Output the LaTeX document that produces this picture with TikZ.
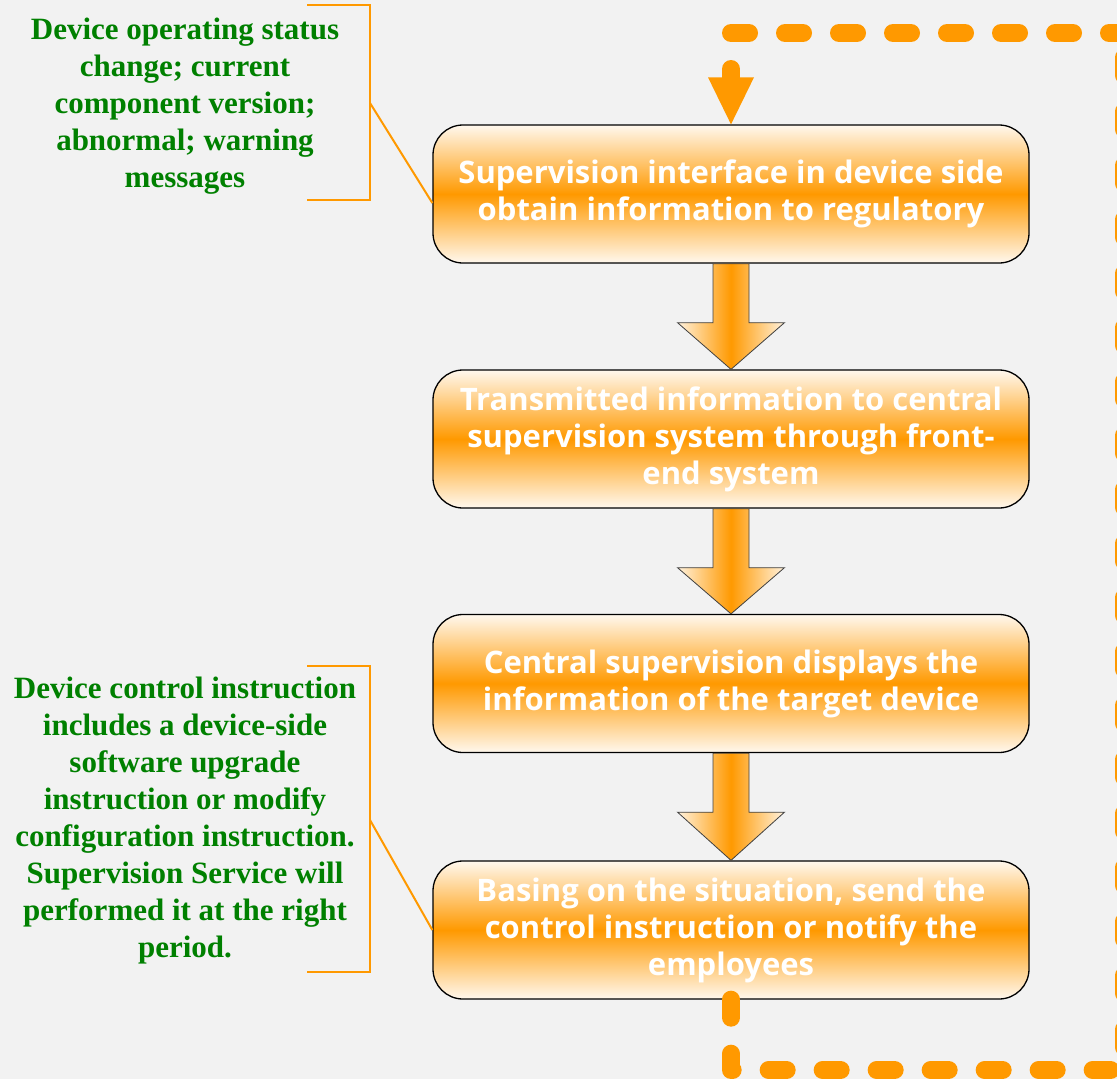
\documentclass[tikz,border=0pt]{standalone}
\usepackage{fontspec}
\setmainfont{Liberation Serif}
\newfontfamily\boxfont{Open Sans}
\usetikzlibrary{calc}
\definecolor{bg}{HTML}{F2F2F2}
\definecolor{org}{HTML}{FF9900}
\definecolor{lorg}{HTML}{FFF8EE}
\definecolor{aorg}{HTML}{FFF2DE}
\definecolor{grn}{HTML}{008000}
\tikzset{
  stagebox/.style={draw=black, line width=1.3pt, rounded corners=30pt,
    minimum width=596pt, minimum height=138pt,
    top color=lorg, bottom color=lorg, middle color=org,
    text=white, align=center, inner sep=0pt,
    font=\boxfont\bfseries\fontsize{31}{37}\selectfont},
  blockarr/.style={draw=black!75, line width=0.8pt,
    left color=aorg, right color=aorg, middle color=org},
  note/.style={text=grn, align=center, inner sep=0pt,
    font=\bfseries\fontsize{31}{37}\selectfont},
  brk/.style={draw=org, line width=2pt},
  loopline/.style={draw=org, line width=18pt, line cap=round, line join=round,
    dash pattern=on 18pt off 36pt},
}
\begin{document}
\begin{tikzpicture}[x=1pt,y=-1pt]
\useasboundingbox (0,0) rectangle (1117,1079);
\clip (0,0) rectangle (1117,1079);
\fill[bg] (0,0) rectangle (1117,1079);

\node[stagebox] (b1) at (731,194) {Supervision interface in device side\\obtain information to regulatory};
\node[stagebox] (b2) at (731,439) {Transmitted information to central\\supervision system through front-\\end system};
\node[stagebox] (b3) at (731,683.5) {Central supervision displays the\\information of the target device};
\node[stagebox] (b4) at (731,930) {Basing on the situation, send the\\control instruction or notify the\\employees};

% block arrows
\foreach \u/\v in {b1/b2, b2/b3, b3/b4}{
  \path[blockarr] ($(\u.south)+(-18,0)$) -- ($(\u.south)+(-18,59)$) -- ($(\u.south)+(-53.5,59)$)
    -- (\v.north) -- ($(\u.south)+(53.5,59)$) -- ($(\u.south)+(18,59)$) -- ($(\u.south)+(18,0)$) -- cycle;
}

% dashed feedback loop
\coordinate (c1) at (1124,1070);
\coordinate (c2) at (1124,33);
\coordinate (c3) at (b1.north |- c2);
\coordinate (c4) at ($(b1.north)+(0,-45)$);
\draw[loopline] (b4.south) |- (c1) -- (c2);
\draw[loopline, dash phase=3pt] (c2) -- (c3) -- (c4);
\fill[org] ($(b1.north)+(-23,-47)$) -- ($(b1.north)+(23,-47)$) -- (b1.north) -- cycle;

% annotations
\node[note] (t1) at (185,106) {Device operating status\\change; current\\component version;\\abnormal; warning\\messages};
\node[note] (t2) at (185,821) {Device control instruction\\includes a device-side\\software upgrade\\instruction or modify\\configuration instruction.\\Supervision Service will\\performed it at the right\\period.};

\coordinate (k1) at (370,103);
\coordinate (k2) at (370,820);
\draw[brk] (307,5) -- (370,5) -- (370,200) -- (307,200);
\draw[brk] (k1) -- ($(b1.west)+(0,9)$);
\draw[brk] (307,666) -- (370,666) -- (370,972) -- (307,972);
\draw[brk] (k2) -- (b4.west);
\end{tikzpicture}
\end{document}
